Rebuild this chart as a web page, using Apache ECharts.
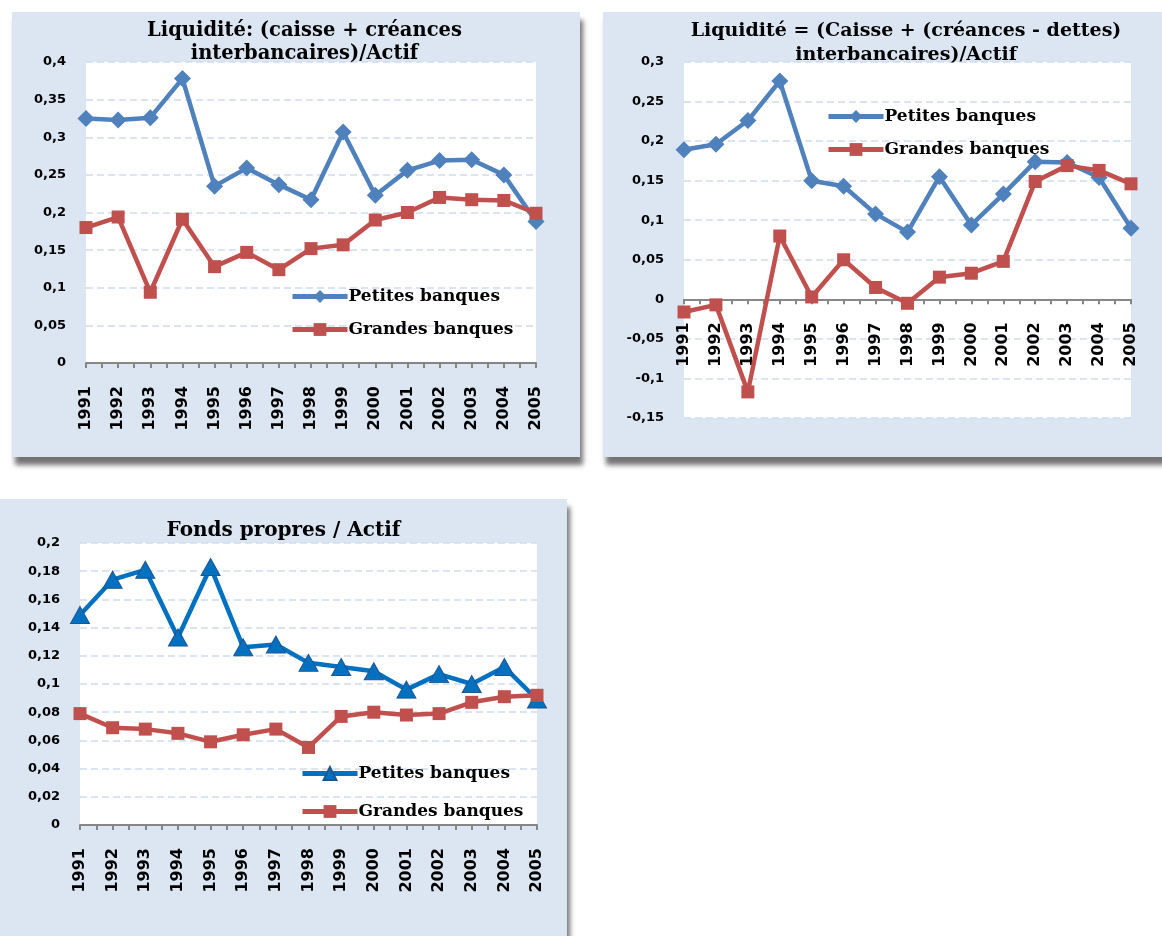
<!DOCTYPE html>
<html>
<head>
<meta charset="utf-8">
<script src="https://cdn.jsdelivr.net/npm/echarts/dist/echarts.min.js"></script>
<style>
    body { margin: 0; width: 1162px; height: 936px; overflow: hidden; background: #fff; position: relative; }
    .panel { position: absolute; background: #dce6f2; box-shadow: 3px 8px 5px rgba(0, 0, 0, 0.55); }
    .chart { position: absolute; }
</style>
</head>
<body>
<div class="panel" style="left:12px;top:12px;width:568px;height:445px;"></div>
<div class="panel" style="left:603px;top:12px;width:600px;height:445px;"></div>
<div class="panel" style="left:-10px;top:499px;width:577px;height:470px;"></div>
<div class="chart" id="chart1" style="left:12px;top:12px;width:585px;height:445px;"></div>
<div class="chart" id="chart2" style="left:603px;top:12px;width:606px;height:445px;"></div>
<div class="chart" id="chart3" style="left:0px;top:499px;width:567px;height:437px;"></div>
<script>
var years = ['1991', '1992', '1993', '1994', '1995', '1996', '1997', '1998', '1999', '2000', '2001', '2002', '2003', '2004', '2005'];
var seriesNames = ['Petites banques', 'Grandes banques'];

// Liquidité: (caisse + créances interbancaires)/Actif
var liqPetites = [0.325, 0.323, 0.326, 0.378, 0.235, 0.259, 0.237, 0.217, 0.307, 0.223, 0.256, 0.269, 0.270, 0.250, 0.188];
var liqGrandes = [0.180, 0.194, 0.094, 0.191, 0.128, 0.147, 0.124, 0.152, 0.157, 0.190, 0.200, 0.220, 0.217, 0.216, 0.199];

// Liquidité = (Caisse + (créances - dettes) interbancaires)/Actif
var netPetites = [0.189, 0.196, 0.226, 0.276, 0.150, 0.143, 0.108, 0.085, 0.155, 0.094, 0.133, 0.174, 0.173, 0.154, 0.090];
var netGrandes = [-0.016, -0.007, -0.117, 0.080, 0.003, 0.050, 0.015, -0.005, 0.028, 0.033, 0.048, 0.149, 0.169, 0.163, 0.146];

// Fonds propres / Actif
var fpPetites = [0.149, 0.174, 0.181, 0.133, 0.183, 0.126, 0.128, 0.115, 0.112, 0.109, 0.096, 0.107, 0.100, 0.112, 0.089];
var fpGrandes = [0.079, 0.069, 0.068, 0.065, 0.059, 0.064, 0.068, 0.055, 0.077, 0.080, 0.078, 0.079, 0.087, 0.091, 0.092];

var serifFont = '"DejaVu Serif", "Liberation Serif", serif';
var sansFont = '"DejaVu Sans", "Liberation Sans", sans-serif';

function commaLabel(v) {
    return String(+v.toFixed(3)).replace('.', ',');
}

function buildOption(c) {
    // the category axis sits on the zero line, so lift it from the grid bottom
    var zeroOffset = -c.grid[3] * (0 - c.yMin) / (c.yMax - c.yMin);
    return {
        animation: false,
        title: {
            text: c.title,
            left: 'center',
            top: c.titleTop,
            padding: 0,
            textStyle: {fontFamily: serifFont, fontWeight: 'bold', fontSize: c.titleSize, color: '#000', lineHeight: c.titleLine}
        },
        legend: {
            orient: 'vertical',
            left: c.legendLeft,
            top: c.legendTop,
            padding: 0,
            itemWidth: 55,
            itemHeight: 16,
            itemGap: c.legendGap,
            lineStyle: {width: 5},
            textStyle: {fontFamily: serifFont, fontWeight: 'bold', fontSize: 17, color: '#000', lineHeight: 16, padding: [0, 0, 0, -4]},
            data: seriesNames
        },
        grid: {
            left: c.grid[0], top: c.grid[1], width: c.grid[2], height: c.grid[3],
            outerBoundsMode: 'none',
            show: true, backgroundColor: '#fff', borderWidth: 0
        },
        xAxis: [
            {
                type: 'category',
                data: years,
                boundaryGap: false,
                position: 'bottom',
                offset: zeroOffset,
                axisLine: {onZero: false, lineStyle: {color: '#868686', width: 2}},
                axisTick: {show: false},
                axisLabel: {rotate: 90, margin: 23, interval: 0, fontFamily: sansFont, fontWeight: 'bold', fontSize: 16, color: '#000'}
            },
            {
                // half-category ticks like the spreadsheet axis
                type: 'value',
                min: 0, max: 14, interval: 0.5,
                position: 'bottom',
                offset: zeroOffset,
                axisLine: {show: false, onZero: false},
                axisTick: {show: true, length: 5, lineStyle: {color: '#868686', width: 2}},
                axisLabel: {show: false},
                splitLine: {show: false}
            }
        ],
        yAxis: {
            type: 'value',
            min: c.yMin, max: c.yMax, interval: c.yStep,
            axisLine: {show: false},
            axisTick: {show: false},
            axisLabel: {margin: 20, fontFamily: sansFont, fontWeight: 'bold', fontSize: 13, color: '#000', formatter: commaLabel},
            splitLine: {lineStyle: {color: '#cfdcef', width: 1.5, type: [7, 4]}}
        },
        series: [
            {
                name: seriesNames[0], type: 'line', data: c.small,
                symbol: c.smallSymbol, symbolSize: c.smallSize,
                lineStyle: {color: c.smallColor, width: 4.5},
                itemStyle: {color: c.smallColor, borderColor: c.smallBorder, borderWidth: c.smallBorder ? 1 : 0}
            },
            {
                name: seriesNames[1], type: 'line', data: c.big,
                symbol: 'rect', symbolSize: 13,
                lineStyle: {color: '#c0504d', width: 4.5},
                itemStyle: {color: '#c0504d'}
            }
        ]
    };
}

var chart1 = echarts.init(document.getElementById('chart1'));
chart1.setOption(buildOption({
    title: 'Liquidité: (caisse + créances\ninterbancaires)/Actif', titleTop: 7, titleLine: 23, titleSize: 19.5,
    legendLeft: 278, legendTop: 276, legendGap: 16,
    grid: [74, 50, 450, 301],
    yMin: 0, yMax: 0.4, yStep: 0.05,
    small: liqPetites, big: liqGrandes,
    smallSymbol: 'diamond', smallSize: 17, smallColor: '#4f81bd'
}));

var chart2 = echarts.init(document.getElementById('chart2'));
chart2.setOption(buildOption({
    title: 'Liquidité = (Caisse + (créances - dettes)\ninterbancaires)/Actif', titleTop: 7, titleLine: 24, titleSize: 19,
    legendLeft: 223, legendTop: 96, legendGap: 16,
    grid: [81, 50, 447, 356],
    yMin: -0.15, yMax: 0.3, yStep: 0.05,
    small: netPetites, big: netGrandes,
    smallSymbol: 'diamond', smallSize: 17, smallColor: '#4f81bd'
}));

var chart3 = echarts.init(document.getElementById('chart3'));
chart3.setOption(buildOption({
    title: 'Fonds propres / Actif', titleTop: 21, titleLine: 22, titleSize: 20,
    legendLeft: 300, legendTop: 266, legendGap: 21,
    grid: [80, 44, 457, 282],
    yMin: 0, yMax: 0.2, yStep: 0.02,
    small: fpPetites, big: fpGrandes,
    smallSymbol: 'triangle', smallSize: [19, 17], smallColor: '#0070c0', smallBorder: '#1f5591'
}));
</script>
</body>
</html>
